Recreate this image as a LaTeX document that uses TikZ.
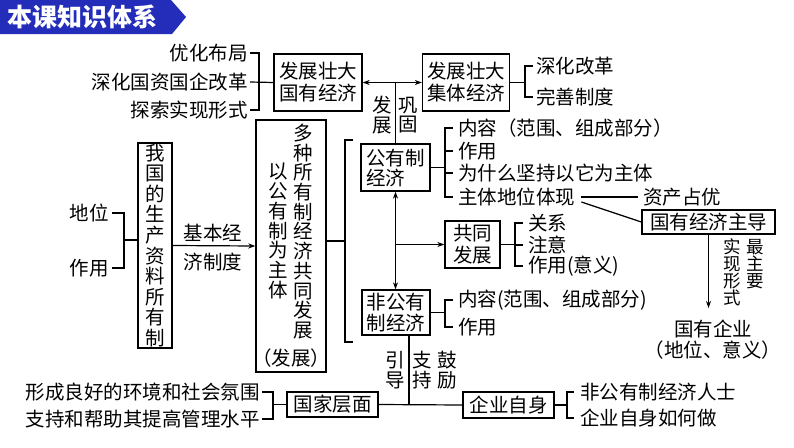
\documentclass[tikz,border=0pt]{standalone}
\usepackage{fontspec}
\setmainfont{Noto Sans CJK SC}
\usetikzlibrary{arrows.meta}
\definecolor{bannerblue}{RGB}{35,45,185}
\newcommand\fs{\fontsize{19.5}{22}\selectfont}
\begin{document}
\begin{tikzpicture}[x=1pt,y=-1pt,
  every node/.style={inner sep=0pt, font=\fs},
  box/.style={draw, line width=1.3pt, align=center},
  ln/.style={line width=1.2pt},
  >={Stealth[length=7pt,width=5pt]},
  lbl/.style={anchor=west},
  lblr/.style={anchor=east},
  vtext/.style={align=center, font=\fontsize{19.5}{19.7}\selectfont},
  small/.style={align=center, font=\fontsize{17.5}{17}\selectfont}
]
\useasboundingbox (0,0) rectangle (794,447);
% banner
\fill[bannerblue] (0,0) -- (171,0) -- (186,17) -- (172,34) -- (0,34) -- cycle;
\node[text=white, font=\fontsize{25}{25}\selectfont\bfseries, anchor=west] (title) at (7,17) {本课知识体系};

% boxes
\node[box, minimum width=88, minimum height=57] (gy) at (318,82.5) {发展壮大\\国有经济};
\node[box, minimum width=87, minimum height=57] (jt) at (466,82.5) {发展壮大\\集体经济};
\node[box, minimum width=34, minimum height=205, font=\fontsize{19.5}{20.6}\selectfont] (sc) at (155,245.5) {我\\国\\的\\生\\产\\资\\料\\所\\有\\制};
\node[box, minimum width=70, minimum height=252] (dz) at (291,246) {};
\node[vtext] (dzr) at (303,231.5) {多\\种\\所\\有\\制\\经\\济\\共\\同\\发\\展};
\node[vtext] (dzl) at (278,231) {以\\公\\有\\制\\为\\主\\体};
\node (dzb) at (291,358) {（发展）};
\node[box, minimum width=69, minimum height=47, align=left, font=\fontsize{19.5}{20}\selectfont] (gyz) at (395.5,167.5) {公有制\\经济};
\node[box, minimum width=68, minimum height=45, font=\fontsize{19.5}{21}\selectfont] (fgy) at (396,312.5) {非公有\\制经济};
\node[box, minimum width=55, minimum height=47] (gt) at (472.5,244.5) {共同\\发展};
\node[box, minimum width=133, minimum height=24] (zd) at (708.5,222) {国有经济主导};
\node[box, minimum width=91, minimum height=25] (gjcm) at (332.5,404.5) {国家层面};
\node[box, minimum width=91, minimum height=26] (qyzs) at (508.5,405) {企业自身};

% top-left items
\coordinate (b1) at (259,0);
\node[lblr] (yh) at (248,53) {优化布局};
\node[lblr] (sh) at (248,82) {深化国资国企改革};
\node[lblr] (ts) at (248,110) {探索实现形式};
\draw[ln] ([xshift=2pt]yh.east) -- (yh.east -| b1) -- (ts.east -| b1) -- ([xshift=2pt]ts.east);
\draw[ln] ([xshift=2pt]sh.east) -- (gy.west);

% top-right items
\coordinate (b2) at (525,0);
\node[lbl] (sg) at (536,66) {深化改革};
\node[lbl] (ws) at (536,97) {完善制度};
\draw[ln] (jt.east) -- (jt.east -| b2);
\draw[ln] ([xshift=-3pt]sg.west) -- (sg.west -| b2) -- (ws.west -| b2) -- ([xshift=-3pt]ws.west);

% gy <-> jt and link down
\draw[ln,<->] (gy.east) -- (jt.west);
\draw[ln] (gyz.north) -- (gyz.north |- gy.east);
\node[vtext] (fz) at (382,115) {发\\展};
\node[vtext] (gg) at (408,115) {巩\\固};

% left items
\coordinate (b3) at (124,0);
\node[lblr] (dw) at (109,213) {地位};
\node[lblr] (zy) at (109,268) {作用};
\draw[ln] ([xshift=3pt]dw.east) -- (dw.east -| b3) -- (zy.east -| b3) -- ([xshift=3pt]zy.east);
\draw[ln] ([yshift=5.5pt]sc.west -| b3) -- ([yshift=5.5pt]sc.west);

% sc -> dz
\draw[ln,->] (sc.east) -- (dz.west);
\node (jb1) at (213,233) {基本经};
\node (jb2) at (213,262) {济制度};

% dz bracket
\coordinate (b4) at (345,0);
\coordinate (b4t) at (345,140);
\coordinate (b4b) at (345,342);
\draw[ln] ([yshift=5pt]dz.east) -- ([yshift=5pt]dz.east -| b4);
\draw[ln] ([xshift=8pt]b4t) -- (b4t) -- (b4b) -- ([xshift=8pt]b4b);

% gyz bracket
\coordinate (b5) at (445,0);
\node[lbl] (nr1) at (458,128) {内容（范围、组成部分）};
\node[lbl] (zy1) at (458,151) {作用};
\node[lbl] (wsm) at (458,173) {为什么坚持以它为主体};
\node[lbl] (zt) at (458,197) {主体地位体现};
\draw[ln] (gyz.east) -- (gyz.east -| b5);
\draw[ln] ([xshift=-5pt]nr1.west) -- (nr1.west -| b5) -- (zt.west -| b5) -- ([xshift=-5pt]zt.west);
\draw[ln] ([xshift=-5pt]zy1.west) -- (zy1.west -| b5);
\draw[ln] ([xshift=-5pt]wsm.west) -- (wsm.west -| b5);

% zt -> zczy, zd
\node[lbl] (zczy) at (643,197) {资产占优};
\draw[ln] ([xshift=6pt]zt.east) -- ([xshift=-5pt]zczy.west);
\draw[ln] ([xshift=6pt,yshift=-5pt]zt.east) -- (zd.west);

% zd -> gyqy
\node[align=center, font=\fontsize{19.5}{21}\selectfont] (gyqy) at (713,340) {国有企业\\（地位、意义）};
\coordinate (qyt) at (708.5,308);
\draw[ln,->] (zd.south) -- (qyt);
\node[small] (sx) at (732,272.5) {实\\现\\形\\式};
\node[small] (zzy) at (755,264) {最\\主\\要};

% gyz <-> fgy, -> gt
\draw[ln,<->] (gyz.south) -- (gyz.south |- fgy.north);
\draw[ln,->] (gyz.south |- gt.west) -- (gt.west);

% gt bracket
\coordinate (b6) at (515,0);
\node[lbl] (gx) at (528,223) {关系};
\node[lbl] (zyi) at (528,245) {注意};
\node[lbl] (zyyy) at (528,266) {作用(意义)};
\draw[ln] (gt.east) -- (gt.east -| b6);
\draw[ln] ([xshift=-5pt]gx.west) -- (gx.west -| b6) -- (zyyy.west -| b6) -- ([xshift=-5pt]zyyy.west);
\draw[ln] ([xshift=-5pt]zyi.west) -- (zyi.west -| b6);

% fgy bracket
\node[lbl] (nr2) at (458,300) {内容(范围、组成部分)};
\node[lbl] (zy3) at (458,327) {作用};
\draw[ln] (fgy.east) -- (fgy.east -| b5);
\draw[ln] ([xshift=-5pt]nr2.west) -- (nr2.west -| b5) -- (zy3.west -| b5) -- ([xshift=-5pt]zy3.west);

% bottom
\draw[ln] ([xshift=13pt]fgy.south) -- ([xshift=13pt]fgy.south |- gjcm.east);
\draw[ln] (gjcm.east) -- (qyzs.west);
\node[vtext] (yd) at (395,370) {引\\导};
\node[vtext] (zc) at (422,370) {支\\持};
\node[vtext] (gl) at (447,370) {鼓\\励};

% bottom-left bracket
\coordinate (b7) at (273,0);
\node[lblr] (xc) at (260,392) {形成良好的环境和社会氛围};
\node[lblr] (zcbz) at (260,419) {支持和帮助其提高管理水平};
\draw[ln] ([xshift=2pt]xc.east) -- (xc.east -| b7) -- (zcbz.east -| b7) -- ([xshift=2pt]zcbz.east);
\draw[ln] (gjcm.west -| b7) -- (gjcm.west);

% bottom-right bracket
\coordinate (b8) at (567,0);
\node[lbl] (fgyrs) at (580,392) {非公有制经济人士};
\node[lbl] (qyrz) at (580,418) {企业自身如何做};
\draw[ln] (qyzs.east) -- (qyzs.east -| b8);
\draw[ln] ([xshift=-6pt]fgyrs.west) -- (fgyrs.west -| b8) -- (qyrz.west -| b8) -- ([xshift=-6pt]qyrz.west);
\end{tikzpicture}
\end{document}
